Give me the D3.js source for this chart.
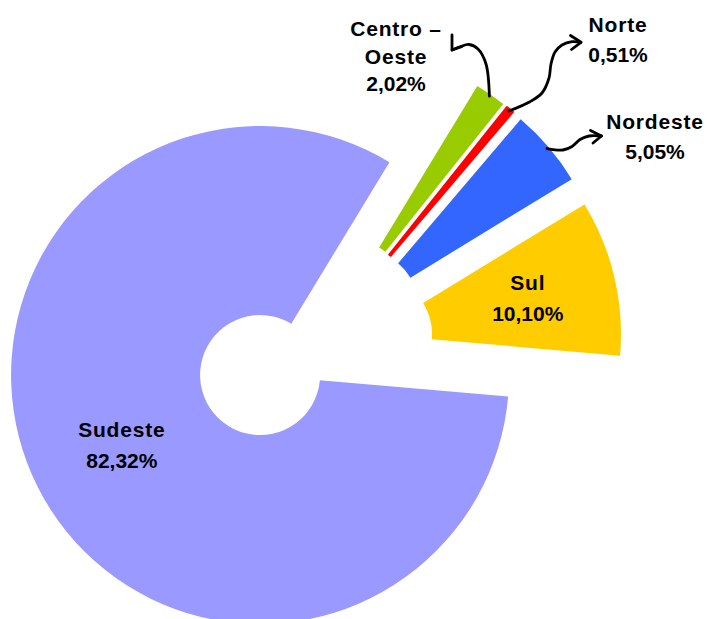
<!DOCTYPE html>
<html>
<head>
<meta charset="utf-8">
<script src="https://cdn.jsdelivr.net/npm/d3@7"></script>
<style>
  html, body { margin: 0; padding: 0; background: #ffffff; }
  svg { display: block; }
</style>
</head>
<body>
<svg id="chart" width="707" height="619"></svg>
<script>
// ---------- data ----------
const categories = ["Centro – Oeste", "Norte", "Nordeste", "Sul", "Sudeste"];
const values = [2.02, 0.51, 5.05, 10.10, 82.32];
const colors = ["#99CC00", "#FF0000", "#3366FF", "#FFCC00", "#9999FF"];
// label text lines for each category name
const nameLines = [["Centro –", "Oeste"], ["Norte"], ["Nordeste"], ["Sul"], ["Sudeste"]];

// ---------- layout ----------
const W = 707, H = 619;
const cx = 313.6, cy = 347.9;
const innerR = 60, outerR = 249, explode = 60;
const startDeg = 31.3;
const fontSize = 21;
// extra outline to keep very thin slices visible
const thinOutline = { "Norte": 1.8 };

// outside labels: anchor (centre x, first baseline y) and line gap
const outsideLabels = {
  "Centro – Oeste": { x: 396, y: 36, gap: 27.5 },
  "Norte":          { x: 618, y: 31.5, gap: 30 },
  "Nordeste":       { x: 655, y: 128.5, gap: 30 }
};
// inside labels: radius along slice mid-angle, line gap
const insideLabels = {
  "Sul":     { r: 160, gap: 31 },
  "Sudeste": { r: 155, gap: 31.5 }
};
// arrow annotations (path after the start point on the slice, and the head)
const arrows = {
  "Centro – Oeste": {
    path: [[486, 64], [478, 49], [469, 44.5], [460, 46.8], [452, 50]],
    head: [[452, 35], [452, 50], [462, 46.5]]
  },
  "Norte": {
    path: [[530, 101.7], [542, 93], [549, 78], [551, 64], [555, 52], [562, 45], [572, 41.7], [581, 42.3]],
    head: [[570.5, 35.5], [581, 42.3], [571.5, 49.5]]
  },
  "Nordeste": {
    path: [[563, 150], [572, 146.5], [580, 139.5], [589, 136], [601.5, 136]],
    head: [[590.5, 130.5], [601.5, 136], [593, 143]]
  }
};

// ---------- drawing ----------
const svg = d3.select("#chart");
const locale = d3.formatLocale({ decimal: ",", thousands: ".", grouping: [3], currency: ["", ""] });
const fmt = v => locale.format(".2f")(v) + "%";

const pie = d3.pie()
  .value(d => d.value)
  .sort(null)
  .startAngle(startDeg * Math.PI / 180)
  .endAngle(startDeg * Math.PI / 180 + 2 * Math.PI);

const data = categories.map((c, i) => ({ name: c, value: values[i], color: colors[i], lines: nameLines[i] }));
const arcs = pie(data);

const arc = d3.arc().innerRadius(innerR).outerRadius(outerR);

const dir = a => [Math.sin(a), -Math.cos(a)];
arcs.forEach(a => {
  a.mid = (a.startAngle + a.endAngle) / 2;
  const d = dir(a.mid);
  a.ox = cx + explode * d[0];
  a.oy = cy + explode * d[1];
});

const g = svg.append("g");
g.selectAll("path.slice")
  .data(arcs)
  .join("path")
  .attr("class", "slice")
  .attr("transform", d => `translate(${d.ox},${d.oy})`)
  .attr("d", arc)
  .attr("fill", d => d.data.color)
  .attr("stroke", d => thinOutline[d.data.name] ? d.data.color : "none")
  .attr("stroke-width", d => thinOutline[d.data.name] || 0)
  .attr("stroke-linejoin", "round");

// arrows
const line = d3.line().curve(d3.curveCatmullRom.alpha(0.5));
arcs.forEach(a => {
  const ar = arrows[a.data.name];
  if (!ar) return;
  const d = dir(a.mid);
  const start = [a.ox + (outerR - 2) * d[0], a.oy + (outerR - 2) * d[1]];
  svg.append("path")
    .attr("d", line([start, ...ar.path]))
    .attr("fill", "none")
    .attr("stroke", "#000")
    .attr("stroke-width", 2.8)
    .attr("stroke-linecap", "round");
  svg.append("path")
    .attr("d", d3.line()(ar.head))
    .attr("fill", "none")
    .attr("stroke", "#000")
    .attr("stroke-width", 2.8)
    .attr("stroke-linecap", "round")
    .attr("stroke-linejoin", "round");
});

// labels
function addLabel(lines, x, y, gap) {
  const t = svg.append("text")
    .attr("x", x).attr("y", y)
    .attr("text-anchor", "middle")
    .attr("font-family", "'Liberation Sans', Arial, sans-serif")
    .attr("font-weight", "bold")
    .attr("font-size", fontSize)
    .attr("fill", "#000");
  lines.forEach((ln, i) => {
    t.append("tspan")
      .attr("x", x)
      .attr("dy", i === 0 ? 0 : gap)
      .attr("letter-spacing", i < lines.length - 1 ? 0.8 : 0)
      .text(ln);
  });
}

arcs.forEach(a => {
  const name = a.data.name;
  const lines = [...a.data.lines, fmt(a.data.value)];
  if (outsideLabels[name]) {
    const o = outsideLabels[name];
    addLabel(lines, o.x, o.y, o.gap);
  } else if (insideLabels[name]) {
    const o = insideLabels[name];
    const d = dir(a.mid);
    const px = a.ox + o.r * d[0];
    const py = a.oy + o.r * d[1];
    const capH = fontSize * 0.716;
    const blockH = capH + o.gap * (lines.length - 1);
    const firstBaseline = py - blockH / 2 + capH;
    addLabel(lines, px, firstBaseline, o.gap);
  }
});
</script>
</body>
</html>
